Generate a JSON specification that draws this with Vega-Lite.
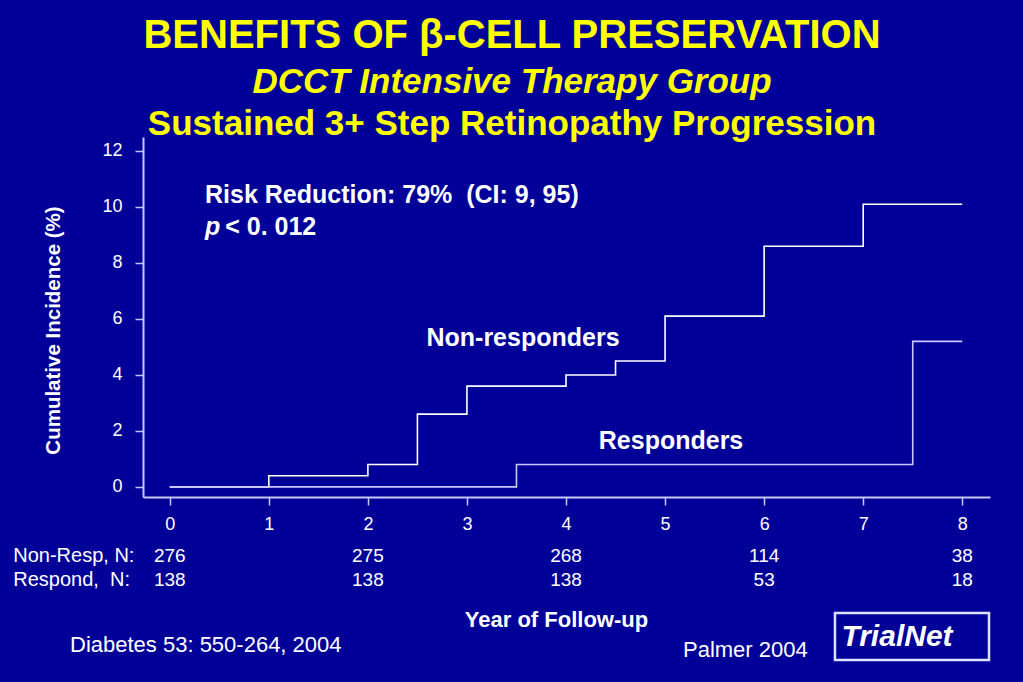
{
  "$schema": "https://vega.github.io/schema/vega-lite/v6.json",
  "width": 847,
  "height": 360,
  "autosize": "none",
  "padding": {"left": 143, "top": 137, "right": 33, "bottom": 185},
  "background": "#000099",
  "config": {
    "view": {"stroke": null},
    "font": "Liberation Sans",
    "text": {"font": "Liberation Sans", "color": "white"}
  },
  "data": {"values": [{}]},
  "datasets": {
    "curves": [
      {"year": 0, "pct": 0, "group": "Non-responders"},
      {"year": 1, "pct": 0.4, "group": "Non-responders"},
      {"year": 2, "pct": 0.8, "group": "Non-responders"},
      {"year": 2.5, "pct": 2.6, "group": "Non-responders"},
      {"year": 3, "pct": 3.6, "group": "Non-responders"},
      {"year": 4, "pct": 4.0, "group": "Non-responders"},
      {"year": 4.5, "pct": 4.5, "group": "Non-responders"},
      {"year": 5, "pct": 6.1, "group": "Non-responders"},
      {"year": 6, "pct": 8.6, "group": "Non-responders"},
      {"year": 7, "pct": 10.1, "group": "Non-responders"},
      {"year": 8, "pct": 10.1, "group": "Non-responders"},
      {"year": 0, "pct": 0, "group": "Responders"},
      {"year": 3.5, "pct": 0.8, "group": "Responders"},
      {"year": 7.5, "pct": 5.2, "group": "Responders"},
      {"year": 8, "pct": 5.2, "group": "Responders"}
    ],
    "atrisk": [
      {"year": 0, "row": "Non-Resp", "n": 276},
      {"year": 2, "row": "Non-Resp", "n": 275},
      {"year": 4, "row": "Non-Resp", "n": 268},
      {"year": 6, "row": "Non-Resp", "n": 114},
      {"year": 8, "row": "Non-Resp", "n": 38},
      {"year": 0, "row": "Respond", "n": 138},
      {"year": 2, "row": "Respond", "n": 138},
      {"year": 4, "row": "Respond", "n": 138},
      {"year": 6, "row": "Respond", "n": 53},
      {"year": 8, "row": "Respond", "n": 18}
    ]
  },
  "layer": [
    {
      "data": {"name": "curves"},
      "mark": {"type": "line", "interpolate": "step-after", "strokeWidth": 1.6},
      "encoding": {
        "x": {
          "field": "year", "type": "quantitative",
          "scale": {"domain": [-0.27, 8.28], "nice": false, "zero": false},
          "axis": {
            "values": [0, 1, 2, 3, 4, 5, 6, 7, 8],
            "format": "d",
            "grid": false,
            "domainColor": "#c8c8ff", "domainWidth": 2,
            "tickColor": "#c8c8ff", "tickWidth": 1.5, "tickSize": 8,
            "labelColor": "white", "labelFontSize": 18, "labelPadding": 10,
            "labelFont": "Liberation Sans",
            "title": "Year of Follow-up",
            "titleColor": "white", "titleFontSize": 22, "titleFontWeight": "bold",
            "titleFont": "Liberation Sans",
            "titlePadding": 76, "titleX": 413
          }
        },
        "y": {
          "field": "pct", "type": "quantitative",
          "scale": {"domain": [-0.36, 12.5], "nice": false, "zero": false},
          "axis": {
            "values": [0, 2, 4, 6, 8, 10, 12],
            "grid": false,
            "domainColor": "#c8c8ff", "domainWidth": 2,
            "tickColor": "#c8c8ff", "tickWidth": 1.5, "tickSize": 8,
            "labelColor": "white", "labelFontSize": 18, "labelPadding": 13,
            "labelFont": "Liberation Sans",
            "title": "Cumulative Incidence (%)",
            "titleColor": "white", "titleFontSize": 20.5, "titleFontWeight": "bold",
            "titleFont": "Liberation Sans",
            "titlePadding": 38, "titleY": 193
          }
        },
        "color": {
          "field": "group", "type": "nominal",
          "scale": {"domain": ["Non-responders", "Responders"], "range": ["#ffffff", "#c8c8ff"]},
          "legend": null
        }
      }
    },
    {
      "mark": {"type": "text", "color": "#ffff00", "fontSize": 40, "fontWeight": "bold", "align": "center", "baseline": "middle"},
      "encoding": {"x": {"datum": 3.455}, "y": {"datum": 16.1}, "text": {"value": "BENEFITS OF β-CELL PRESERVATION"}}
    },
    {
      "mark": {"type": "text", "color": "#ffff00", "fontSize": 35, "fontWeight": "bold", "fontStyle": "italic", "align": "center", "baseline": "middle"},
      "encoding": {"x": {"datum": 3.455}, "y": {"datum": 14.45}, "text": {"value": "DCCT Intensive Therapy Group"}}
    },
    {
      "mark": {"type": "text", "color": "#ffff00", "fontSize": 35, "fontWeight": "bold", "align": "center", "baseline": "middle"},
      "encoding": {"x": {"datum": 3.455}, "y": {"datum": 12.95}, "text": {"value": "Sustained 3+ Step Retinopathy Progression"}}
    },
    {
      "mark": {"type": "text", "fontSize": 25, "fontWeight": "bold", "align": "left", "baseline": "middle"},
      "encoding": {"x": {"datum": 0.356}, "y": {"datum": 10.43}, "text": {"value": "Risk Reduction: 79%\u00a0 (CI: 9, 95)"}}
    },
    {
      "mark": {"type": "text", "fontSize": 25, "fontWeight": "bold", "fontStyle": "italic", "align": "left", "baseline": "middle"},
      "encoding": {"x": {"datum": 0.356}, "y": {"datum": 9.29}, "text": {"value": "p"}}
    },
    {
      "mark": {"type": "text", "fontSize": 25, "fontWeight": "bold", "align": "left", "baseline": "middle"},
      "encoding": {"x": {"datum": 0.56}, "y": {"datum": 9.29}, "text": {"value": "< 0. 012"}}
    },
    {
      "mark": {"type": "text", "fontSize": 25, "fontWeight": "bold", "align": "center", "baseline": "middle"},
      "encoding": {"x": {"datum": 3.566}, "y": {"datum": 5.32}, "text": {"value": "Non-responders"}}
    },
    {
      "mark": {"type": "text", "fontSize": 25, "fontWeight": "bold", "align": "center", "baseline": "middle"},
      "encoding": {"x": {"datum": 5.06}, "y": {"datum": 1.64}, "text": {"value": "Responders"}}
    },
    {
      "mark": {"type": "text", "fontSize": 20, "align": "left", "baseline": "middle"},
      "encoding": {"x": {"datum": -1.58}, "y": {"datum": -2.47}, "text": {"value": "Non-Resp, N:"}}
    },
    {
      "mark": {"type": "text", "fontSize": 20, "align": "left", "baseline": "middle"},
      "encoding": {"x": {"datum": -1.58}, "y": {"datum": -3.32}, "text": {"value": "Respond,\u00a0 N:"}}
    },
    {
      "data": {"name": "atrisk"},
      "transform": [{"filter": "datum.row === 'Non-Resp'"}],
      "mark": {"type": "text", "fontSize": 19, "align": "center", "baseline": "middle"},
      "encoding": {"x": {"field": "year", "type": "quantitative"}, "y": {"datum": -2.47}, "text": {"field": "n", "type": "quantitative"}}
    },
    {
      "data": {"name": "atrisk"},
      "transform": [{"filter": "datum.row === 'Respond'"}],
      "mark": {"type": "text", "fontSize": 19, "align": "center", "baseline": "middle"},
      "encoding": {"x": {"field": "year", "type": "quantitative"}, "y": {"datum": -3.32}, "text": {"field": "n", "type": "quantitative"}}
    },
    {
      "mark": {"type": "text", "fontSize": 22, "align": "left", "baseline": "middle"},
      "encoding": {"x": {"datum": -1.007}, "y": {"datum": -5.65}, "text": {"value": "Diabetes 53: 550-264, 2004"}}
    },
    {
      "mark": {"type": "text", "fontSize": 22, "align": "left", "baseline": "middle"},
      "encoding": {"x": {"datum": 5.181}, "y": {"datum": -5.82}, "text": {"value": "Palmer 2004"}}
    },
    {
      "mark": {"type": "rect", "fill": null, "stroke": "#e0e0ff", "strokeWidth": 2.5},
      "encoding": {"x": {"datum": 6.715}, "x2": {"datum": 8.27}, "y": {"datum": -4.5}, "y2": {"datum": -6.18}}
    },
    {
      "mark": {"type": "text", "fontSize": 30, "fontWeight": "bold", "fontStyle": "italic", "align": "center", "baseline": "middle"},
      "encoding": {"x": {"datum": 7.341}, "y": {"datum": -5.36}, "text": {"value": "TrialNet"}}
    }
  ]
}
